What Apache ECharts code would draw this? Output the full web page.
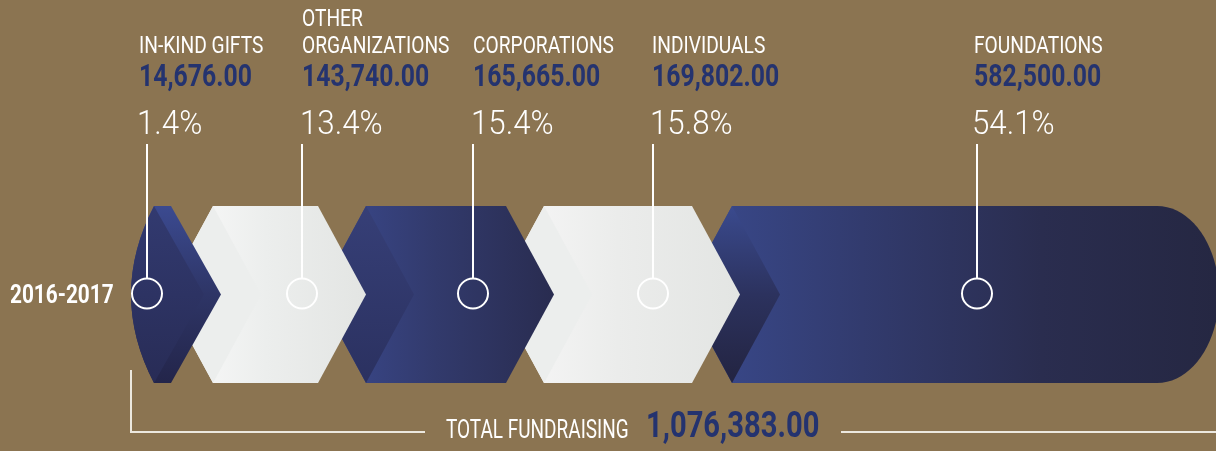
<!DOCTYPE html>
<html>
<head>
<meta charset="utf-8">
<script src="https://cdn.jsdelivr.net/npm/echarts@6/dist/echarts.min.js"></script>
<style>
html, body { margin: 0; padding: 0; background: #8b7451; }
#chart { width: 1216px; height: 451px; }
</style>
</head>
<body>
<div id="chart"></div>
<script>
// data
var categories = ['IN-KIND GIFTS', 'OTHER\nORGANIZATIONS', 'CORPORATIONS', 'INDIVIDUALS', 'FOUNDATIONS'];
var amounts = [14676, 143740, 165665, 169802, 582500];
var period = '2016-2017';

var total = amounts.reduce(function (a, b) { return a + b; }, 0);
var shares = amounts.map(function (v) { return (v / total * 100).toFixed(1) + '%'; });
function money(v) { return v.toLocaleString('en-US', { minimumFractionDigits: 2, maximumFractionDigits: 2 }); }

// layout of the ribbon, in units of the hidden axes
var segX = [[154, 171], [213, 318], [366, 506], [544, 692], [732, 1157]];
var markX = [147, 302, 473, 653, 977];
var textX = [139, 302, 473, 652, 974];
var bandTop = 206, bandBot = 383, bandMid = 294.5;

// no condensed face installed, so Roboto is squeezed sideways
var font = 'Roboto, "Liberation Sans", sans-serif';
var navy = '#24336f';

function lg(x0, y0, x1, y1, stops) {
    return new echarts.graphic.LinearGradient(x0, y0, x1, y1, stops.map(function (c, k) {
        return { offset: k / (stops.length - 1), color: c };
    }));
}

var looks = [
    { facet: lg(0, 0, 0, 1, ['#323a70', '#282c56']), body: lg(0, 0, 0, 1, ['#3b4a90', '#2e3566', '#23254a']) },
    { facet: '#eceeed', body: lg(0, 0, 1, 0, ['#fbfbfb', '#eceeed', '#e3e5e3']) },
    { facet: lg(0, 0, 0, 1, ['#363f77', '#2b3160']), body: lg(0, 0, 1, 0, ['#3b4a90', '#323a6c', '#292c50']) },
    { facet: '#eceeed', body: lg(0, 0, 1, 0, ['#f8f8f8', '#ebeceb', '#e3e5e3']) },
    { facet: lg(0, 0, 0, 1, ['#3a4a8e', '#2c325e', '#232441']), body: lg(0, 0, 1, 0, ['#3a4a8e', '#323b6e', '#2a2d4f', '#252742']) }
];

function txt(x, y, s, opt) {
    return {
        type: 'text', x: x, y: y, scaleX: opt.sx || 1,
        style: {
            text: s, fill: opt.color || '#fff', fontFamily: font, fontSize: opt.size,
            fontWeight: opt.weight || 'normal', align: 'left', verticalAlign: 'middle'
        }
    };
}

function renderSeg(params, api) {
    var i = api.value(0);
    var x0 = segX[i][0], x1 = segX[i][1];
    var tip = i === 0 ? 50 : 48;
    function p(x, y) { var c = api.coord([x, y]); return c[0].toFixed(1) + ' ' + c[1].toFixed(1); }
    var leftSide, facet;
    if (i === 0) {
        leftSide = 'L' + p(x0, bandBot) + 'Q' + p(x0 - 46, bandMid) + ' ' + p(x0, bandTop);
        facet = 'M' + p(x0, bandTop) + 'L' + p(x0 + tip, bandMid) + 'L' + p(x0, bandBot) +
            'Q' + p(x0 - 46, bandMid) + ' ' + p(x0, bandTop) + 'Z';
    } else {
        leftSide = 'L' + p(x0, bandBot) + 'L' + p(x0 - tip, bandMid);
        facet = 'M' + p(x0, bandTop) + 'L' + p(x0 + tip, bandMid) + 'L' + p(x0, bandBot) +
            'L' + p(x0 - tip, bandMid) + 'Z';
    }
    var rightSide;
    if (i === categories.length - 1) {
        var rx = 62, ry = (bandBot - bandTop) / 2, k = 0.5523;
        rightSide = 'C' + p(x1 + rx * k, bandTop) + ' ' + p(x1 + rx, bandMid - ry * k) + ' ' + p(x1 + rx, bandMid) +
            'C' + p(x1 + rx, bandMid + ry * k) + ' ' + p(x1 + rx * k, bandBot) + ' ' + p(x1, bandBot);
    } else {
        rightSide = 'L' + p(x1 + tip, bandMid) + 'L' + p(x1, bandBot);
    }
    var body = 'M' + p(x0, bandTop) + 'L' + p(x1, bandTop) + rightSide + leftSide + 'Z';
    var z = 100 - i * 10;
    return {
        type: 'group',
        children: [
            { type: 'path', z2: z, shape: { pathData: body }, style: { fill: looks[i].body } },
            { type: 'path', z2: z + 1, shape: { pathData: facet }, style: { fill: looks[i].facet } }
        ]
    };
}

function renderMarker(params, api) {
    var i = api.value(0);
    var m = api.coord([markX[i], bandMid - 1]);
    var top = api.coord([markX[i], 144]);
    var tx = textX[i];
    var kids = [
        { type: 'line', shape: { x1: m[0], y1: top[1], x2: m[0], y2: m[1] - 15 }, style: { stroke: '#fff', lineWidth: 2 } },
        { type: 'circle', shape: { cx: m[0], cy: m[1], r: 15 }, style: { fill: 'none', stroke: '#fff', lineWidth: 2 } }
    ];
    var lines = categories[i].split('\n');
    lines.forEach(function (t, k) {
        var c = api.coord([tx, 47 - (lines.length - 1 - k) * 27]);
        kids.push(txt(c[0], c[1], t, { size: 24, sx: 0.8 }));
    });
    var cv = api.coord([tx, 78]);
    kids.push(txt(cv[0], cv[1], money(amounts[i]), { size: 31, sx: 0.8, weight: 'bold', color: navy }));
    var cp = api.coord([tx - 2, 125]);
    kids.push(txt(cp[0], cp[1], shares[i], { size: 34, sx: 0.92, weight: 300 }));
    return { type: 'group', children: kids };
}

var chart = echarts.init(document.getElementById('chart'));
var rows = categories.map(function (c, i) { return [i, amounts[i]]; });

var option = {
    backgroundColor: '#8b7451',
    animation: false,
    grid: { left: 0, right: 0, top: 0, bottom: 0 },
    xAxis: { type: 'value', min: 0, max: 1216, show: false },
    yAxis: { type: 'value', min: 0, max: 451, inverse: true, show: false },
    graphic: [
        txt(10, 296, period, { size: 26, sx: 0.8, weight: 'bold' }),
        { type: 'polyline', shape: { points: [[131, 370], [131, 432], [425, 432]] }, style: { stroke: '#ece8df', lineWidth: 2, fill: 'none' } },
        { type: 'line', shape: { x1: 841, y1: 432, x2: 1216, y2: 432 }, style: { stroke: '#ece8df', lineWidth: 2 } },
        txt(446, 431, 'TOTAL FUNDRAISING', { size: 26, sx: 0.73 }),
        txt(646, 428, money(total), { size: 36, sx: 0.81, weight: 'bold', color: navy })
    ],
    series: [
        { type: 'custom', name: 'ribbon', renderItem: renderSeg, data: rows, encode: { x: 0 }, z: 2, silent: true },
        { type: 'custom', name: 'labels', renderItem: renderMarker, data: rows, encode: { x: 0 }, z: 3, silent: true }
    ]
};

chart.setOption(option);
</script>
</body>
</html>
